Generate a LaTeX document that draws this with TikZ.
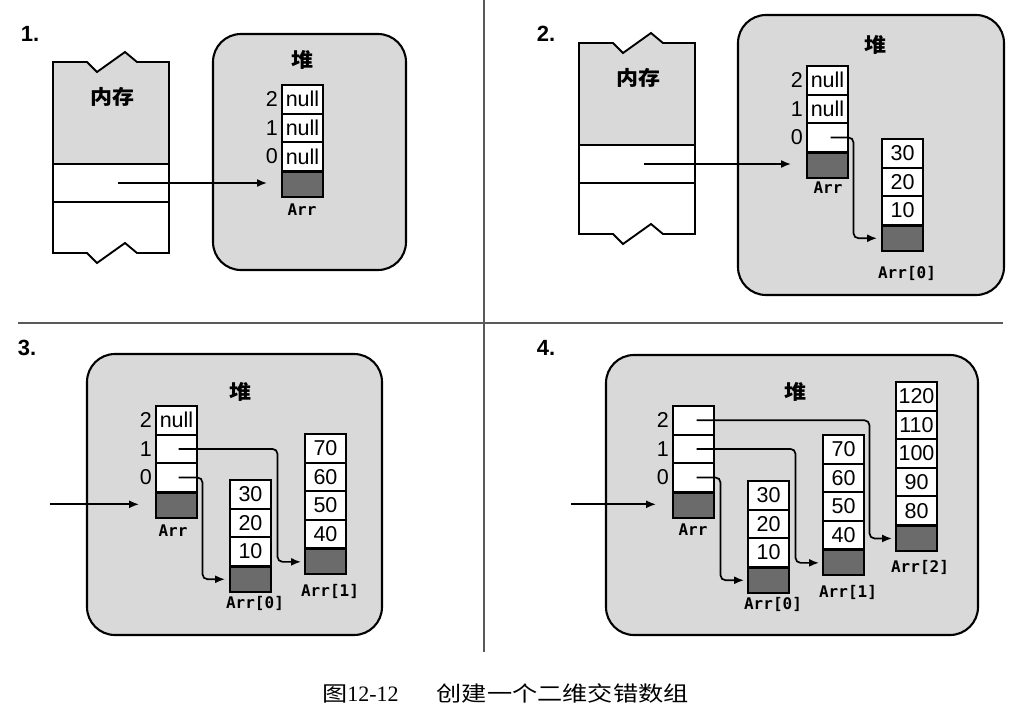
\documentclass[tikz,border=0pt]{standalone}
\usepackage{fontspec}
\setmainfont{Liberation Sans}
\newfontfamily\cjk{Noto Sans CJK SC}[FakeStretch=1.1]
\newfontfamily\cjkcap{Noto Sans CJK SC}[FakeStretch=1.2]
\newfontfamily\monob{DejaVu Sans Mono}
\newfontfamily\serifnum{Liberation Serif}
\usetikzlibrary{arrows.meta}
\definecolor{heapgray}{gray}{0.85}
\definecolor{darkcell}{gray}{0.42}
\tikzset{
  heap/.style={draw, line width=2.1pt, fill=heapgray, rounded corners=28pt},
  cellbox/.style={draw, line width=1.9pt, fill=white, minimum width=41pt, minimum height=28.6pt, inner sep=0pt, font=\fontsize{21.5}{21.5}\selectfont},
  darkbox/.style={draw, line width=1.9pt, fill=darkcell, minimum width=41pt, minimum height=25pt, inner sep=0pt},
  idx/.style={font=\fontsize{21.5}{21.5}\selectfont, inner sep=0pt, anchor=east},
  lbl/.style={font=\monob\bfseries\fontsize{16}{16}\selectfont, inner sep=0pt},
  qnum/.style={font=\bfseries\fontsize{22}{22}\selectfont, inner sep=0pt},
  heaptitle/.style={font=\cjk\bfseries\fontsize{20}{20}\selectfont, inner sep=0pt},
  memtitle/.style={font=\cjk\bfseries\fontsize{20}{20}\selectfont, inner sep=0pt},
  ptr/.style={line width=1.7pt, -{Latex[length=10pt,width=8pt]}},
  memline/.style={line width=1.9pt},
  divider/.style={line width=1.2pt, black!65},
}
% memory block: #1 name, #2 left x, #3 top y
\newcommand\memblock[3]{%
  \fill[heapgray] (#2,#3) -- ++(34,0) -- ++(10,10) -- ++(28,-20) -- ++(12,10)
    -- ({#2+116},#3) -- ({#2+116},{#3+102}) -- (#2,{#3+102}) -- cycle;
  \draw[memline] (#2,#3) -- ++(34,0) -- ++(10,10) -- ++(28,-20) -- ++(12,10)
    -- ({#2+116},#3) -- ({#2+116},{#3+191}) -- ({#2+84},{#3+191})
    -- ++(-12,-10) -- ++(-28,20) -- ++(-10,-10) -- (#2,{#3+191}) -- cycle;
  \draw[memline] (#2,{#3+102}) -- ++(116,0);
  \draw[memline] (#2,{#3+140}) -- ++(116,0);
  \node[memtitle] (#1-t) at ({#2+59},{#3+35}) {内存};
  \coordinate (#1-ptr) at ({#2+65},{#3+121});
}
% array column: #1 name, #2 left x, #3 top y, #4 cell texts top to bottom
\newcommand\arrcol[4]{%
  \foreach \txt [count=\i] in {#4} {%
    \node[cellbox] (#1-\i) at ({#2+20.5},{#3+(\i-0.5)*28.6}) {\txt};
    \xdef\ncells{\i}%
  }
  \node[darkbox, anchor=north] (#1-d) at ({#2+20.5},{#3+\ncells*28.6}) {};
}
\newcommand\idxlabels[1]{%
  \node[idx] (#1-i2) at ([xshift=-3pt]#1-1.west) {2};
  \node[idx] (#1-i1) at ([xshift=-3pt]#1-2.west) {1};
  \node[idx] (#1-i0) at ([xshift=-3pt]#1-3.west) {0};
}
\begin{document}
\begin{tikzpicture}[x=1pt,y=-1pt]
\useasboundingbox (0,0) rectangle (1013,713);
\fill[white] (0,0) rectangle (1013,713);

% dividers
\draw[divider] (484,0) -- (484,652);
\draw[divider] (18,323) -- (1003,323);

% ---------- 1 ----------
\node[qnum] (n1) at (30,34) {1.};
\memblock{m1}{53}{62}
\draw[heap] (213,34) rectangle (406,270);
\node[heaptitle] (h1) at (302,60) {堆};
\arrcol{a1}{282}{85}{null,null,null}
\idxlabels{a1}
\node[lbl] (l1a) at (302,210) {Arr};
\coordinate (t1) at ([xshift=-14pt]a1-d.west);
\draw[ptr] (m1-ptr) -- (m1-ptr -| t1);

% ---------- 2 ----------
\node[qnum] (n2) at (546,34) {2.};
\memblock{m2}{579}{43}
\draw[heap] (738,15) rectangle (1004,295);
\node[heaptitle] (h2) at (875,45) {堆};
\arrcol{a2}{807}{66}{null,null,{}}
\idxlabels{a2}
\node[lbl] (l2a) at (828,188) {Arr};
\arrcol{b2}{882}{139}{30,20,10}
\node[lbl] (l2b) at (907,273) {Arr[0]};
\coordinate (t2) at ([xshift=-15pt]a2-d.west);
\draw[ptr] (m2-ptr) -- (m2-ptr -| t2);
\coordinate (t2b) at ([xshift=-4pt]b2-d.west);
\draw[ptr, rounded corners=5pt] ([xshift=3pt]a2-3.center) -- ++(23,0) |- (t2b);

% ---------- 3 ----------
\node[qnum] (n3) at (27,348) {3.};
\draw[heap] (87,354) rectangle (382,635);
\node[heaptitle] (h3) at (240,392) {堆};
\arrcol{a3}{156}{406}{null,{},{}}
\idxlabels{a3}
\node[lbl] (l3a) at (173,531) {Arr};
\arrcol{b3}{230}{480}{30,20,10}
\node[lbl] (l3b) at (255,603) {Arr[0]};
\arrcol{c3}{305}{434}{70,60,50,40}
\node[lbl] (l3c) at (330,591) {Arr[1]};
\coordinate (in3) at (50,504.3);
\coordinate (t3) at ([xshift=-16pt]a3-d.west);
\draw[ptr] (in3) -- (in3 -| t3);
\coordinate (t3b) at ([xshift=-4pt]b3-d.west);
\coordinate (t3c) at ([xshift=-3pt]c3-d.west);
\draw[ptr, rounded corners=5pt] ([xshift=2pt]a3-3.center) -- ++(24,0) |- (t3b);
\draw[ptr, rounded corners=5pt] ([xshift=2pt]a3-2.center) -- ++(99,0) |- (t3c);

% ---------- 4 ----------
\node[qnum] (n4) at (546,348) {4.};
\draw[heap] (606,355) rectangle (978,635);
\node[heaptitle] (h4) at (795,392) {堆};
\arrcol{a4}{673}{406}{{},{},{}}
\idxlabels{a4}
\node[lbl] (l4a) at (693,530) {Arr};
\arrcol{b4}{748}{481}{30,20,10}
\node[lbl] (l4b) at (773,604) {Arr[0]};
\arrcol{c4}{823}{435}{70,60,50,40}
\node[lbl] (l4c) at (848,592) {Arr[1]};
\arrcol{d4}{896}{382}{120,110,100,90,80}
\node[lbl] (l4d) at (920,567) {Arr[2]};
\coordinate (in4) at (571,504.3);
\coordinate (t4) at ([xshift=-16pt]a4-d.west);
\draw[ptr] (in4) -- (in4 -| t4);
\coordinate (t4b) at ([xshift=-3pt]b4-d.west);
\coordinate (t4c) at ([xshift=-3pt]c4-d.west);
\coordinate (t4d) at ([xshift=-3pt]d4-d.west);
\draw[ptr, rounded corners=5pt] ([xshift=3pt]a4-3.center) -- ++(24,0) |- (t4b);
\draw[ptr, rounded corners=5pt] ([xshift=3pt]a4-2.center) -- ++(99,0) |- (t4c);
\draw[ptr, rounded corners=5pt] ([xshift=3pt]a4-1.center) -- ++(173,0) |- (t4d);

% caption
\node[anchor=west, inner sep=0pt] (cap) at (322,693)
  {{\cjkcap\fontsize{21}{21}\selectfont 图}{\serifnum\fontsize{22}{22}\selectfont 12-12}\hspace{38pt}{\cjkcap\fontsize{21}{21}\selectfont 创建一个二维交错数组}};
\end{tikzpicture}
\end{document}
